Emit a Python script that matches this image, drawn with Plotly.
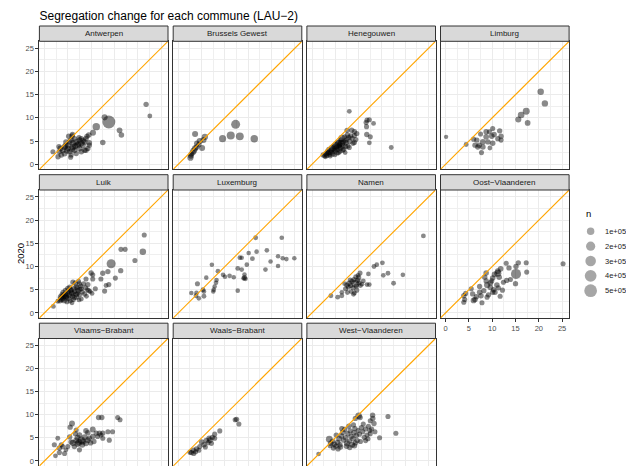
import plotly.graph_objects as go

W, H = 626, 466
FONT = "Liberation Sans, Arial, Helvetica, sans-serif"

title_text = "Segregation change for each commune (LAU\u22122)"
y_title = "2020"
legend_title = "n"
legend_n = [100000, 200000, 300000, 400000, 500000]
legend_labels = ["1e+05", "2e+05", "3e+05", "4e+05", "5e+05"]
tick_vals = [0, 5, 10, 15, 20, 25]
axis_range = [-1.1, 26.5]

province_names = ["Antwerpen", "Brussels Gewest", "Henegouwen", "Limburg", "Luik", "Luxemburg",
                  "Namen", "Oost\u2212Vlaanderen", "Vlaams\u2212Brabant", "Waals\u2212Brabant",
                  "West\u2212Vlaanderen"]

# (x, 2020, n) per commune
antwerpen = [(21.8, 12.9, 25000), (22.6, 10.4, 15000), (13.8, 9.1, 530000), (12.9, 10.1, 45000),
             (11.1, 8.1, 100000), (16.1, 7.3, 35000), (16.5, 6.3, 30000), (10.4, 6.8, 45000),
             (9.5, 6.3, 30000), (12.5, 4.7, 30000), (9.6, 4.6, 35000), (5.9, 6.1, 30000),
             (5.6, 1.5, 20000), (1.8, 2.7, 20000), (2.9, 1.6, 25000), (8.9, 3.0, 30000),
             (7.9, 5.5, 30000), (3.4, 3.4, 40000), (4.3, 3.7, 45000), (5.0, 4.1, 40000),
             (6.1, 4.5, 50000), (6.8, 4.8, 45000), (7.5, 5.2, 40000), (8.2, 4.1, 45000),
             (7.5, 3.4, 40000), (6.4, 3.0, 35000), (5.4, 2.7, 30000), (4.3, 2.3, 35000),
             (3.6, 2.0, 30000), (4.6, 4.8, 30000), (5.7, 5.2, 35000), (6.1, 3.7, 60000),
             (7.1, 4.1, 55000), (7.9, 4.5, 50000), (8.9, 5.5, 30000), (9.3, 3.4, 25000),
             (8.6, 3.0, 30000), (6.8, 2.3, 25000), (5.0, 3.4, 45000), (3.9, 3.0, 40000),
             (3.2, 2.7, 30000), (5.4, 4.8, 35000), (6.4, 5.5, 30000), (7.4, 5.7, 25000),
             (8.6, 4.8, 35000), (9.6, 4.1, 25000), (7.9, 2.7, 30000), (5.7, 2.0, 25000),
             (4.8, 2.9, 40000), (6.6, 3.9, 50000), (7.3, 4.4, 45000), (5.9, 3.3, 55000),
             (4.5, 4.0, 35000), (3.1, 3.8, 25000), (8.3, 5.1, 35000), (9.1, 6.0, 25000),
             (5.2, 6.0, 30000), (6.0, 6.4, 25000)]

brussels = [(12.3, 8.6, 185000), (11.25, 6.2, 130000), (13.2, 6.0, 120000), (9.5, 5.5, 85000),
            (16.3, 5.5, 100000), (3.6, 6.5, 45000), (5.7, 5.9, 55000), (4.6, 5.0, 50000),
            (4.0, 4.5, 40000), (5.1, 3.5, 45000), (3.6, 3.4, 50000), (3.1, 2.5, 45000),
            (2.7, 1.8, 40000), (2.6, 1.4, 50000), (3.9, 3.7, 35000), (2.8, 2.2, 30000),
            (5.4, 5.2, 45000), (4.4, 4.2, 25000), (3.3, 2.9, 60000)]

henegouwen = [(8.0, 11.4, 15000), (11.8, 9.5, 20000), (12.3, 9.6, 20000), (11.6, 9.0, 20000),
              (13.2, 8.8, 15000), (11.7, 8.1, 20000), (11.75, 6.4, 25000), (12.5, 5.9, 20000),
              (12.3, 4.6, 15000), (17.0, 3.6, 15000), (7.1, 2.5, 15000), (9.1, 7.0, 25000),
              (9.1, 6.2, 20000), (9.1, 4.7, 20000), (8.5, 7.3, 30000), (7.5, 7.3, 20000),
              (2.4, 2.0, 25000), (2.7, 1.8, 20000), (3.0, 2.2, 30000), (3.2, 1.9, 20000),
              (3.5, 2.4, 25000), (3.8, 2.1, 20000), (3.3, 2.8, 20000), (4.0, 2.6, 30000),
              (4.2, 3.0, 25000), (4.5, 2.7, 20000), (4.8, 3.3, 35000), (5.0, 2.9, 25000),
              (5.2, 3.6, 40000), (5.5, 3.2, 30000), (5.8, 3.8, 45000), (5.9, 4.2, 30000),
              (6.1, 3.5, 35000), (6.3, 4.5, 80000), (6.5, 4.0, 40000), (6.7, 4.8, 30000),
              (5.7, 4.4, 150000), (7.1, 5.0, 25000), (7.3, 4.6, 30000), (7.5, 5.4, 20000),
              (7.7, 3.9, 25000), (7.9, 5.8, 20000), (8.1, 4.9, 25000), (8.3, 6.1, 20000),
              (6.0, 2.8, 20000), (6.8, 3.2, 25000), (5.4, 2.4, 20000), (4.4, 2.2, 25000),
              (3.6, 3.2, 20000), (4.6, 3.8, 30000), (5.6, 4.6, 40000), (6.2, 5.2, 30000),
              (7.0, 5.9, 20000), (7.6, 6.3, 25000), (8.6, 5.6, 20000), (8.8, 4.5, 20000),
              (9.4, 5.3, 20000), (9.6, 6.6, 25000), (8.0, 3.6, 20000), (7.2, 3.8, 25000),
              (6.6, 3.0, 20000), (5.7, 2.5, 20000), (4.9, 2.0, 15000), (3.9, 1.8, 20000),
              (2.9, 1.6, 15000), (3.4, 2.5, 25000), (5.1, 4.0, 95000), (6.4, 5.6, 80000),
              (4.3, 3.4, 70000)]

limburg = [(0.1, 5.9, 8000), (20.4, 15.6, 60000), (21.3, 13.1, 55000), (17.3, 11.4, 78000),
           (16.2, 10.6, 66000), (15.6, 9.65, 45000), (17.6, 8.9, 35000), (4.4, 4.25, 15000),
           (7.7, 2.5, 20000), (8.7, 7.0, 30000), (11.6, 7.2, 25000), (9.9, 6.05, 30000),
           (11.9, 6.05, 25000), (11.9, 5.2, 20000), (10.1, 4.5, 30000), (9.1, 4.8, 25000),
           (8.0, 4.8, 35000), (7.2, 4.1, 30000), (6.3, 4.1, 25000), (6.0, 5.4, 20000),
           (6.7, 5.2, 25000), (8.7, 5.9, 35000), (10.4, 6.4, 30000), (11.2, 5.5, 25000),
           (8.0, 3.7, 30000), (6.9, 3.7, 25000), (9.4, 7.0, 20000), (10.1, 7.7, 20000),
           (7.5, 6.5, 20000), (9.5, 3.5, 15000)]

luik = [(21.4, 16.8, 20000), (21.1, 13.2, 60000), (16.4, 13.7, 20000), (17.3, 13.7, 20000),
        (19.4, 11.3, 20000), (14.3, 10.6, 190000), (16.35, 9.1, 25000), (15.2, 7.5, 20000),
        (13.6, 8.9, 25000), (13.8, 6.1, 20000), (13.2, 5.9, 15000), (12.9, 4.7, 20000),
        (10.9, 5.2, 20000), (12.1, 7.3, 20000), (12.5, 8.55, 25000), (10.35, 7.3, 20000),
        (10.0, 8.6, 25000), (10.35, 8.2, 20000), (8.9, 7.3, 20000), (9.3, 6.1, 25000),
        (9.5, 4.8, 20000), (8.6, 4.1, 20000), (7.9, 3.0, 15000), (1.9, 1.4, 15000),
        (2.85, 2.5, 15000), (6.1, 6.6, 25000), (7.5, 6.3, 20000), (6.8, 5.6, 25000),
        (7.9, 5.2, 20000), (3.3, 2.6, 30000), (3.6, 3.0, 60000), (3.9, 3.2, 70000),
        (4.1, 3.6, 50000), (4.4, 3.9, 40000), (4.6, 3.3, 45000), (4.9, 4.2, 35000),
        (5.1, 4.6, 30000), (5.3, 3.8, 40000), (5.6, 4.9, 30000), (5.8, 4.3, 35000),
        (6.0, 3.6, 25000), (6.3, 5.2, 30000), (6.5, 4.6, 25000), (6.8, 4.0, 30000),
        (7.0, 5.4, 20000), (7.2, 4.8, 25000), (7.5, 3.9, 20000), (7.8, 5.8, 20000),
        (6.2, 2.9, 20000), (5.5, 2.6, 20000), (4.8, 2.4, 20000), (4.2, 2.7, 40000),
        (3.8, 3.9, 35000), (4.5, 4.8, 30000), (5.0, 5.3, 25000), (5.4, 5.6, 20000),
        (6.6, 6.4, 25000), (7.3, 6.8, 20000), (5.9, 2.2, 15000), (6.9, 3.4, 20000),
        (8.1, 4.5, 20000), (8.4, 6.3, 20000), (7.6, 5.1, 20000), (3.5, 3.4, 50000),
        (4.0, 4.4, 30000), (4.7, 3.6, 35000), (5.2, 3.1, 30000), (6.1, 4.1, 30000),
        (6.4, 3.3, 25000), (7.1, 4.3, 20000), (5.7, 5.0, 25000), (8.8, 5.4, 20000),
        (9.2, 5.0, 15000), (9.8, 4.6, 15000), (10.2, 4.2, 15000), (9.0, 3.6, 15000),
        (7.4, 2.8, 15000)]

luxemburg = [(16.6, 16.2, 15000), (22.2, 16.2, 12000), (19.0, 13.5, 12000), (16.8, 13.2, 12000),
             (15.1, 12.9, 10000), (15.9, 11.7, 15000), (13.2, 11.9, 12000), (13.6, 11.9, 10000),
             (21.4, 12.2, 10000), (22.4, 11.8, 10000), (23.2, 11.6, 10000), (24.9, 11.8, 10000),
             (19.8, 11.1, 10000), (21.4, 10.1, 10000), (18.7, 9.35, 12000), (14.7, 10.4, 12000),
             (12.75, 9.6, 15000), (13.6, 9.35, 12000), (14.2, 8.3, 10000), (14.4, 7.35, 15000),
             (14.2, 7.6, 20000), (14.0, 7.45, 12000), (12.75, 4.8, 10000), (7.2, 10.4, 10000),
             (8.5, 9.0, 12000), (9.6, 8.2, 12000), (10.0, 7.8, 10000), (11.0, 8.0, 12000),
             (11.9, 7.7, 10000), (6.0, 7.6, 10000), (8.2, 7.1, 12000), (8.1, 6.5, 10000),
             (7.8, 5.7, 10000), (7.6, 5.0, 12000), (7.5, 4.6, 10000), (5.3, 5.0, 15000),
             (4.1, 6.3, 20000), (2.8, 4.3, 10000), (3.9, 4.3, 12000), (3.8, 3.7, 15000),
             (4.4, 3.15, 12000), (5.5, 3.6, 15000), (5.5, 4.6, 12000)]

namen = [(23.9, 16.6, 15000), (15.1, 10.8, 15000), (13.9, 10.4, 12000), (13.3, 10.0, 15000),
         (16.3, 8.55, 15000), (15.3, 8.1, 12000), (19.5, 8.2, 12000), (17.5, 6.4, 15000),
         (12.1, 8.4, 12000), (10.3, 8.6, 20000), (9.9, 8.1, 15000), (11.8, 6.1, 12000),
         (12.3, 6.1, 12000), (4.05, 3.7, 15000), (5.5, 3.4, 15000), (6.4, 4.45, 12000),
         (6.4, 3.7, 15000), (7.2, 5.2, 20000), (7.5, 6.0, 25000), (7.8, 5.6, 20000),
         (8.0, 6.4, 30000), (8.3, 5.9, 20000), (8.6, 6.8, 25000), (8.8, 5.4, 20000),
         (9.0, 7.2, 20000), (9.3, 6.3, 110000), (9.5, 5.8, 20000), (9.8, 7.0, 25000),
         (10.1, 6.5, 20000), (10.4, 5.9, 15000), (10.7, 6.2, 15000), (8.4, 4.6, 15000),
         (9.1, 4.3, 15000), (7.6, 4.4, 15000), (9.6, 4.9, 20000), (10.0, 7.6, 25000),
         (8.2, 7.1, 20000), (7.0, 6.3, 15000), (9.4, 7.8, 20000), (8.9, 4.0, 15000),
         (11.0, 6.9, 15000)]

oost_vlaanderen = [(25.2, 10.6, 20000), (17.3, 10.8, 20000), (17.4, 8.8, 20000), (15.6, 10.8, 25000),
                   (15.1, 10.0, 25000), (15.1, 8.4, 263000), (15.0, 6.3, 25000), (13.0, 10.7, 20000),
                   (13.6, 9.7, 25000), (13.1, 7.0, 25000), (13.9, 7.2, 20000), (11.8, 9.5, 35000),
                   (11.2, 8.55, 85000), (11.2, 9.0, 40000), (10.5, 8.3, 35000), (8.7, 8.6, 30000),
                   (8.4, 7.7, 25000), (10.1, 7.5, 30000), (8.9, 6.0, 50000), (9.6, 6.5, 35000),
                   (11.0, 6.0, 30000), (11.3, 5.4, 25000), (10.6, 4.45, 25000), (8.9, 3.4, 20000),
                   (7.3, 4.45, 30000), (7.6, 3.7, 25000), (6.3, 2.9, 30000), (5.8, 4.1, 25000),
                   (5.5, 5.2, 20000), (4.1, 2.9, 20000), (3.9, 3.7, 25000), (4.3, 4.2, 20000),
                   (6.0, 2.7, 35000), (10.1, 4.45, 25000), (9.6, 5.5, 30000), (8.7, 6.9, 25000),
                   (12.2, 4.9, 20000), (7.3, 5.7, 25000), (11.7, 3.6, 20000), (7.8, 2.2, 20000),
                   (3.9, 2.3, 20000), (9.2, 3.9, 25000), (10.3, 5.0, 30000), (12.4, 6.6, 20000),
                   (8.2, 4.8, 25000), (6.6, 3.5, 25000), (9.9, 6.9, 20000), (11.5, 7.7, 30000)]

vlaams_brabant = [(15.7, 9.4, 20000), (16.2, 8.9, 20000), (11.6, 9.4, 25000), (12.3, 9.4, 25000),
                  (13.6, 6.3, 20000), (14.6, 6.3, 20000), (13.9, 4.5, 20000), (12.5, 4.9, 20000),
                  (12.5, 6.0, 25000), (5.9, 8.1, 40000), (5.5, 7.3, 25000), (6.8, 6.7, 20000),
                  (2.85, 4.9, 15000), (2.1, 3.5, 20000), (2.35, 1.1, 15000), (3.2, 1.8, 20000),
                  (4.3, 1.6, 20000), (7.5, 2.4, 20000), (10.35, 6.8, 40000), (8.9, 6.5, 30000),
                  (9.3, 6.1, 30000), (11.1, 6.0, 25000), (12.1, 5.6, 20000), (10.6, 4.2, 25000),
                  (9.9, 3.9, 25000), (7.1, 5.0, 45000), (5.7, 4.1, 30000), (5.4, 5.2, 25000),
                  (5.0, 3.1, 20000), (3.9, 3.1, 20000), (3.2, 2.8, 25000), (6.4, 3.1, 25000),
                  (8.2, 4.2, 60000), (7.5, 5.6, 30000), (7.9, 4.5, 100000), (8.6, 5.1, 45000),
                  (6.1, 3.9, 50000), (7.1, 3.7, 50000), (9.3, 4.5, 40000), (8.9, 3.8, 35000),
                  (8.1, 3.5, 40000), (6.8, 4.4, 45000), (11.8, 6.0, 25000), (11.4, 5.3, 20000),
                  (10.35, 5.3, 30000), (3.6, 3.5, 20000), (4.6, 2.4, 15000), (6.6, 5.9, 20000),
                  (9.6, 4.9, 30000), (7.4, 4.0, 60000)]

waals_brabant = [(12.5, 9.0, 25000), (12.2, 8.9, 20000), (13.0, 8.0, 20000), (8.9, 6.5, 20000),
                 (7.8, 5.8, 20000), (7.3, 5.1, 25000), (6.8, 4.5, 35000), (6.4, 3.95, 20000),
                 (5.0, 4.1, 30000), (5.5, 3.5, 25000), (4.6, 3.1, 20000), (3.9, 2.6, 25000),
                 (3.2, 2.3, 30000), (2.8, 1.8, 25000), (3.7, 2.0, 20000), (4.4, 2.3, 20000),
                 (5.8, 3.0, 20000), (7.1, 3.8, 20000), (7.8, 4.9, 20000), (6.0, 4.4, 30000),
                 (3.3, 1.6, 20000), (2.5, 1.9, 20000), (6.6, 4.9, 25000)]

west_vlaanderen = [(16.3, 9.6, 20000), (18.0, 6.0, 20000), (14.5, 5.0, 20000), (13.0, 9.9, 25000),
                   (13.05, 9.2, 25000), (13.3, 8.1, 25000), (12.5, 8.7, 20000), (13.5, 6.3, 20000),
                   (12.5, 5.9, 20000), (10.0, 9.8, 60000), (9.3, 9.2, 25000), (10.3, 9.4, 30000),
                   (1.4, 1.5, 12000), (3.7, 4.7, 70000), (4.0, 3.8, 30000), (4.4, 4.3, 25000),
                   (4.8, 3.6, 30000), (5.1, 3.2, 25000), (5.5, 4.0, 30000), (5.8, 4.8, 40000),
                   (6.0, 3.5, 25000), (6.3, 5.4, 30000), (6.6, 6.2, 35000), (6.8, 4.5, 25000),
                   (7.0, 6.8, 25000), (7.2, 5.0, 30000), (7.5, 3.8, 45000), (7.7, 5.9, 30000),
                   (8.0, 4.3, 25000), (8.2, 6.5, 25000), (8.4, 5.3, 30000), (8.6, 3.5, 45000),
                   (8.8, 4.8, 30000), (9.0, 6.1, 35000), (9.2, 7.0, 25000), (9.5, 5.5, 25000),
                   (9.7, 4.4, 25000), (9.9, 6.6, 20000), (10.2, 5.8, 20000), (10.4, 4.2, 20000),
                   (10.6, 7.2, 25000), (10.9, 6.3, 20000), (11.2, 5.1, 20000), (11.5, 6.9, 20000),
                   (11.8, 5.6, 20000), (12.1, 7.5, 20000), (12.4, 6.6, 20000), (6.4, 7.0, 25000),
                   (5.2, 5.6, 25000), (7.9, 7.5, 25000), (8.9, 7.8, 20000), (11.0, 8.0, 20000),
                   (6.1, 3.0, 30000), (9.3, 3.9, 25000), (12.0, 4.8, 20000), (7.4, 3.2, 30000),
                   (8.1, 2.9, 25000), (4.6, 2.8, 25000), (5.6, 2.6, 20000), (3.9, 3.3, 20000),
                   (12.8, 6.9, 20000), (11.5, 4.4, 20000), (9.1, 3.3, 30000)]

province_data = [antwerpen, brussels, henegouwen, limburg, luik, luxemburg, namen,
                 oost_vlaanderen, vlaams_brabant, waals_brabant, west_vlaanderen]


def size_px(n):
    # continuous size scale: diameter grows with sqrt(n)
    return 3.2 + 0.0135 * n ** 0.5


POINT_COLOR = "rgba(0,0,0,0.66)"
col_left = [39.4, 173.2, 306.9, 440.5]
panel_w = 128.6
row_top = [41.3, 190.0, 338.5]
panel_h = 128.0
strip_h = 15.3
n_cols = 4

fig = go.Figure()
layout = dict(
    width=W, height=H, autosize=False,
    margin=dict(l=0, r=0, t=0, b=0),
    paper_bgcolor="white", plot_bgcolor="white",
    font=dict(family=FONT, color="#4D4D4D"),
    showlegend=False,
    title=dict(text=title_text, x=39.5 / W, xanchor="left", y=1 - 15.5 / H, yanchor="middle",
               font=dict(size=12, color="black", family=FONT)),
)
shapes, annotations = [], []

for i, (name, rows) in enumerate(zip(province_names, province_data)):
    r, c = divmod(i, n_cols)
    k = "" if i == 0 else str(i + 1)
    x0p = col_left[c]
    top = row_top[r]
    bottom = top + panel_h
    xd = [x0p / W, (x0p + panel_w) / W]
    yd = [max(0.0, 1 - bottom / H), 1 - top / H]
    show_y = c == 0
    show_x = i == 7
    common = dict(range=axis_range, tickvals=tick_vals, showgrid=True, gridcolor="#EBEBEB",
                  gridwidth=1, zeroline=False, showline=True, mirror=True, linecolor="#333333",
                  linewidth=1, tickfont=dict(size=7.5, color="#4D4D4D"), tickcolor="#333333",
                  ticklen=3, tickwidth=1,
                  minor=dict(dtick=2.5, tick0=0, showgrid=True, gridcolor="#EFEFEF", gridwidth=0.6, ticks=""))
    layout["xaxis" + k] = dict(domain=xd, anchor="y" + k, showticklabels=show_x,
                               ticks="outside" if show_x else "", **common)
    layout["yaxis" + k] = dict(domain=yd, anchor="x" + k, showticklabels=show_y,
                               ticks="outside" if show_y else "", **common)
    xs = [p[0] for p in rows]
    ys = [p[1] for p in rows]
    ns = [p[2] for p in rows]
    fig.add_trace(go.Scatter(x=xs, y=ys, mode="markers", xaxis="x" + k, yaxis="y" + k,
                             marker=dict(size=[size_px(n) for n in ns], color=POINT_COLOR,
                                         line=dict(width=0)),
                             hoverinfo="skip", showlegend=False))
    # y = x reference line spanning the panel
    shapes.append(dict(type="line", xref="x" + k, yref="y" + k, x0=axis_range[0], y0=axis_range[0],
                       x1=axis_range[1], y1=axis_range[1], line=dict(color="#FFA500", width=1.1),
                       layer="above"))
    # strip
    shapes.append(dict(type="rect", xref="paper", yref="paper", x0=xd[0], x1=xd[1],
                       y0=1 - top / H, y1=1 - (top - strip_h) / H, fillcolor="#D9D9D9",
                       line=dict(color="#333333", width=1), layer="above"))
    annotations.append(dict(text=name, xref="paper", yref="paper", x=(xd[0] + xd[1]) / 2,
                            y=1 - (top - strip_h / 2) / H, xanchor="center", yanchor="middle",
                            showarrow=False, font=dict(size=8, color="#1A1A1A")))

# y axis title
annotations.append(dict(text=y_title, xref="paper", yref="paper", x=20 / W, y=1 - 254 / H,
                        textangle=-90, showarrow=False, xanchor="center", yanchor="middle",
                        font=dict(size=9.5, color="black")))

# size legend drawn on its own hidden axis
legend_top, legend_step = 231.3, 14.85
lk = str(len(province_names) + 1)
layout["xaxis" + lk] = dict(domain=[583 / W, 600 / W], range=[-1, 1], visible=False,
                            fixedrange=True)
layout["yaxis" + lk] = dict(domain=[1 - (legend_top + 4.5 * legend_step) / H,
                                    1 - (legend_top - 0.5 * legend_step) / H],
                            range=[len(legend_n) - 0.5, -0.5], visible=False, fixedrange=True)
fig.add_trace(go.Scatter(x=[-0.1] * len(legend_n), y=list(range(len(legend_n))), mode="markers",
                         xaxis="x" + lk, yaxis="y" + lk, cliponaxis=False,
                         marker=dict(size=[size_px(n) for n in legend_n], color="rgba(0,0,0,0.5)",
                                     line=dict(width=0)),
                         hoverinfo="skip", showlegend=False))
for j, lab in enumerate(legend_labels):
    annotations.append(dict(text=lab, xref="paper", yref="y" + lk, x=602.5 / W, y=j,
                            xanchor="left", yanchor="middle", showarrow=False,
                            font=dict(size=7.5, color="#1A1A1A")))
annotations.append(dict(text=legend_title, xref="paper", yref="paper", x=584 / W, y=1 - 214 / H,
                        xanchor="left", yanchor="middle", showarrow=False,
                        font=dict(size=9.5, color="black")))

layout["shapes"] = shapes
layout["annotations"] = annotations
fig.update_layout(**layout)
fig.write_html("out.html", config={"displayModeBar": False},
               post_script="document.body.style.margin='0px';document.body.style.overflow='hidden';")
